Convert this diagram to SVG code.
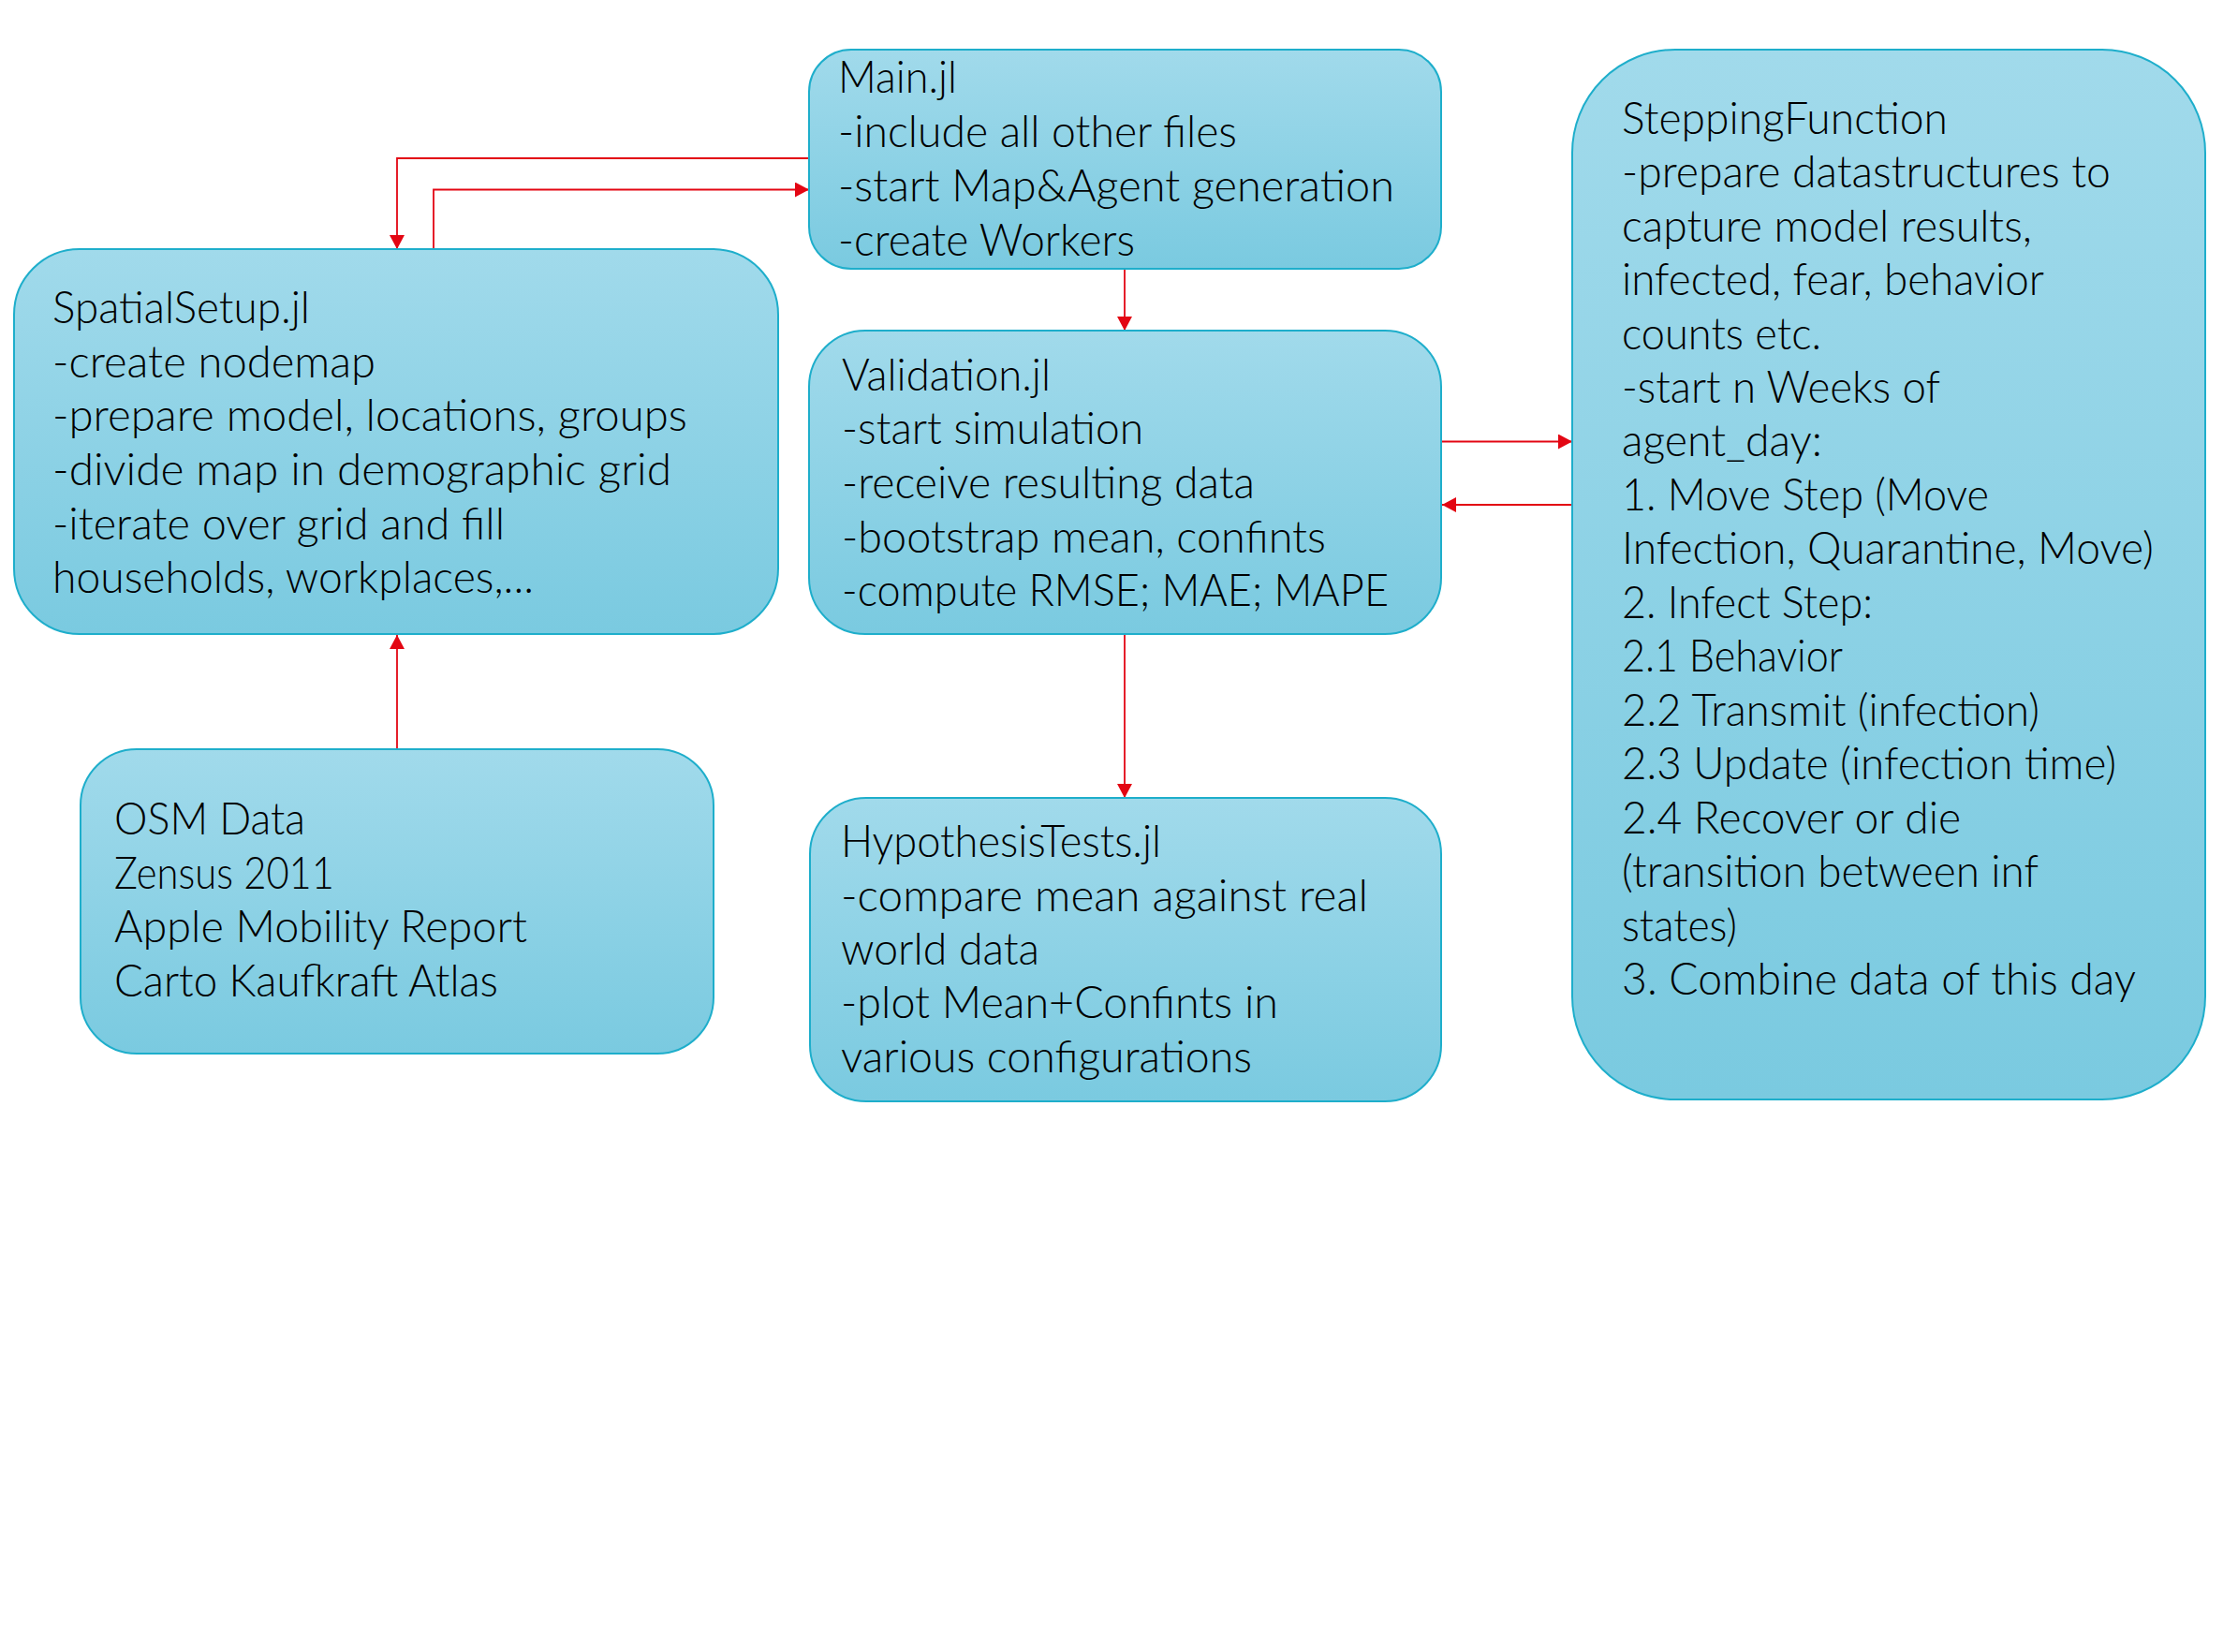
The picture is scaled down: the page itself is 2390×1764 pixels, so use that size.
<svg xmlns="http://www.w3.org/2000/svg" width="2390" height="1764" viewBox="0 0 2390 1764">
<defs>
<linearGradient id="g" x1="0" y1="0" x2="0" y2="1">
<stop offset="0" stop-color="#a1daeb"/>
<stop offset="1" stop-color="#7acae0"/>
</linearGradient>
<marker id="ah" markerUnits="userSpaceOnUse" markerWidth="16" markerHeight="16" refX="15" refY="8" orient="auto">
<path d="M0,0 L15,8 L0,16 z" fill="#e30613"/>
</marker>
<style>
.box{fill:url(#g);stroke:#1eaecb;stroke-width:2}
.t{font-family:Lato,"Open Sans","Liberation Sans",sans-serif;font-weight:300;font-size:47px;fill:#000}
.c{fill:none;stroke:#e30613;stroke-width:1.8}
</style>
</defs>
<rect width="2390" height="1764" fill="#fff"/>
<g id="connectors">
<path class="c" d="M864,169 H424 V266" marker-end="url(#ah)"/>
<path class="c" d="M463,266 V202.5 H864" marker-end="url(#ah)"/>
<path class="c" d="M1201,287 V353" marker-end="url(#ah)"/>
<path class="c" d="M1539,471.5 H1679" marker-end="url(#ah)"/>
<path class="c" d="M1679,539 H1540" marker-end="url(#ah)"/>
<path class="c" d="M424,800 V678" marker-end="url(#ah)"/>
<path class="c" d="M1201,677 V852" marker-end="url(#ah)"/>
</g>
<g id="main">
<rect class="box" x="864" y="53" width="675" height="234" rx="45" ry="45"/>
<text class="t" x="895" y="99" textLength="127" lengthAdjust="spacingAndGlyphs">Main.jl</text>
<text class="t" x="895" y="157" textLength="426" lengthAdjust="spacingAndGlyphs">-include all other files</text>
<text class="t" x="895" y="215" textLength="594" lengthAdjust="spacingAndGlyphs">-start Map&amp;Agent generation</text>
<text class="t" x="895" y="273" textLength="317" lengthAdjust="spacingAndGlyphs">-create Workers</text>
</g>
<g id="spatialsetup">
<rect class="box" x="15" y="266" width="816" height="411" rx="70" ry="70"/>
<text class="t" x="56" y="345" textLength="275" lengthAdjust="spacingAndGlyphs">SpatialSetup.jl</text>
<text class="t" x="56" y="403" textLength="345" lengthAdjust="spacingAndGlyphs">-create nodemap</text>
<text class="t" x="56" y="460" textLength="678" lengthAdjust="spacingAndGlyphs">-prepare model, locations, groups</text>
<text class="t" x="56" y="518" textLength="661" lengthAdjust="spacingAndGlyphs">-divide map in demographic grid</text>
<text class="t" x="56" y="576" textLength="483" lengthAdjust="spacingAndGlyphs">-iterate over grid and fill</text>
<text class="t" x="56" y="633" textLength="514" lengthAdjust="spacingAndGlyphs">households, workplaces,...</text>
</g>
<g id="validation">
<rect class="box" x="864" y="353" width="675" height="324" rx="60" ry="60"/>
<text class="t" x="899" y="417" textLength="223" lengthAdjust="spacingAndGlyphs">Validation.jl</text>
<text class="t" x="899" y="474" textLength="322" lengthAdjust="spacingAndGlyphs">-start simulation</text>
<text class="t" x="899" y="532" textLength="441" lengthAdjust="spacingAndGlyphs">-receive resulting data</text>
<text class="t" x="899" y="590" textLength="517" lengthAdjust="spacingAndGlyphs">-bootstrap mean, confints</text>
<text class="t" x="899" y="647" textLength="584" lengthAdjust="spacingAndGlyphs">-compute RMSE; MAE; MAPE</text>
</g>
<g id="stepping">
<rect class="box" x="1679" y="53" width="676" height="1121" rx="110" ry="110"/>
<text class="t" x="1732" y="143" textLength="348" lengthAdjust="spacingAndGlyphs">SteppingFunction</text>
<text class="t" x="1732" y="200" textLength="522" lengthAdjust="spacingAndGlyphs">-prepare datastructures to</text>
<text class="t" x="1732" y="258" textLength="438" lengthAdjust="spacingAndGlyphs">capture model results,</text>
<text class="t" x="1732" y="315" textLength="451" lengthAdjust="spacingAndGlyphs">infected, fear, behavior</text>
<text class="t" x="1732" y="373" textLength="213" lengthAdjust="spacingAndGlyphs">counts etc.</text>
<text class="t" x="1732" y="430" textLength="340" lengthAdjust="spacingAndGlyphs">-start n Weeks of</text>
<text class="t" x="1732" y="487" textLength="214" lengthAdjust="spacingAndGlyphs">agent_day:</text>
<text class="t" x="1732" y="545" textLength="392" lengthAdjust="spacingAndGlyphs">1. Move Step (Move</text>
<text class="t" x="1732" y="602" textLength="568" lengthAdjust="spacingAndGlyphs">Infection, Quarantine, Move)</text>
<text class="t" x="1732" y="660" textLength="268" lengthAdjust="spacingAndGlyphs">2. Infect Step:</text>
<text class="t" x="1732" y="717" textLength="236" lengthAdjust="spacingAndGlyphs">2.1 Behavior</text>
<text class="t" x="1732" y="775" textLength="446" lengthAdjust="spacingAndGlyphs">2.2 Transmit (infection)</text>
<text class="t" x="1732" y="832" textLength="528" lengthAdjust="spacingAndGlyphs">2.3 Update (infection time)</text>
<text class="t" x="1732" y="890" textLength="362" lengthAdjust="spacingAndGlyphs">2.4 Recover or die</text>
<text class="t" x="1732" y="947" textLength="445" lengthAdjust="spacingAndGlyphs">(transition between inf</text>
<text class="t" x="1732" y="1005" textLength="123" lengthAdjust="spacingAndGlyphs">states)</text>
<text class="t" x="1732" y="1062" textLength="549" lengthAdjust="spacingAndGlyphs">3. Combine data of this day</text>
</g>
<g id="datasources">
<rect class="box" x="86" y="800" width="676" height="325" rx="60" ry="60"/>
<text class="t" x="122" y="891" textLength="204" lengthAdjust="spacingAndGlyphs">OSM Data</text>
<text class="t" x="122" y="949" textLength="235" lengthAdjust="spacingAndGlyphs">Zensus 2011</text>
<text class="t" x="122" y="1006" textLength="441" lengthAdjust="spacingAndGlyphs">Apple Mobility Report</text>
<text class="t" x="122" y="1064" textLength="410" lengthAdjust="spacingAndGlyphs">Carto Kaufkraft Atlas</text>
</g>
<g id="hypothesistests">
<rect class="box" x="865" y="852" width="674" height="324" rx="60" ry="60"/>
<text class="t" x="898" y="915" textLength="342" lengthAdjust="spacingAndGlyphs">HypothesisTests.jl</text>
<text class="t" x="898" y="973" textLength="563" lengthAdjust="spacingAndGlyphs">-compare mean against real</text>
<text class="t" x="898" y="1030" textLength="212" lengthAdjust="spacingAndGlyphs">world data</text>
<text class="t" x="898" y="1087" textLength="467" lengthAdjust="spacingAndGlyphs">-plot Mean+Confints in</text>
<text class="t" x="898" y="1145" textLength="439" lengthAdjust="spacingAndGlyphs">various configurations</text>
</g>
</svg>
